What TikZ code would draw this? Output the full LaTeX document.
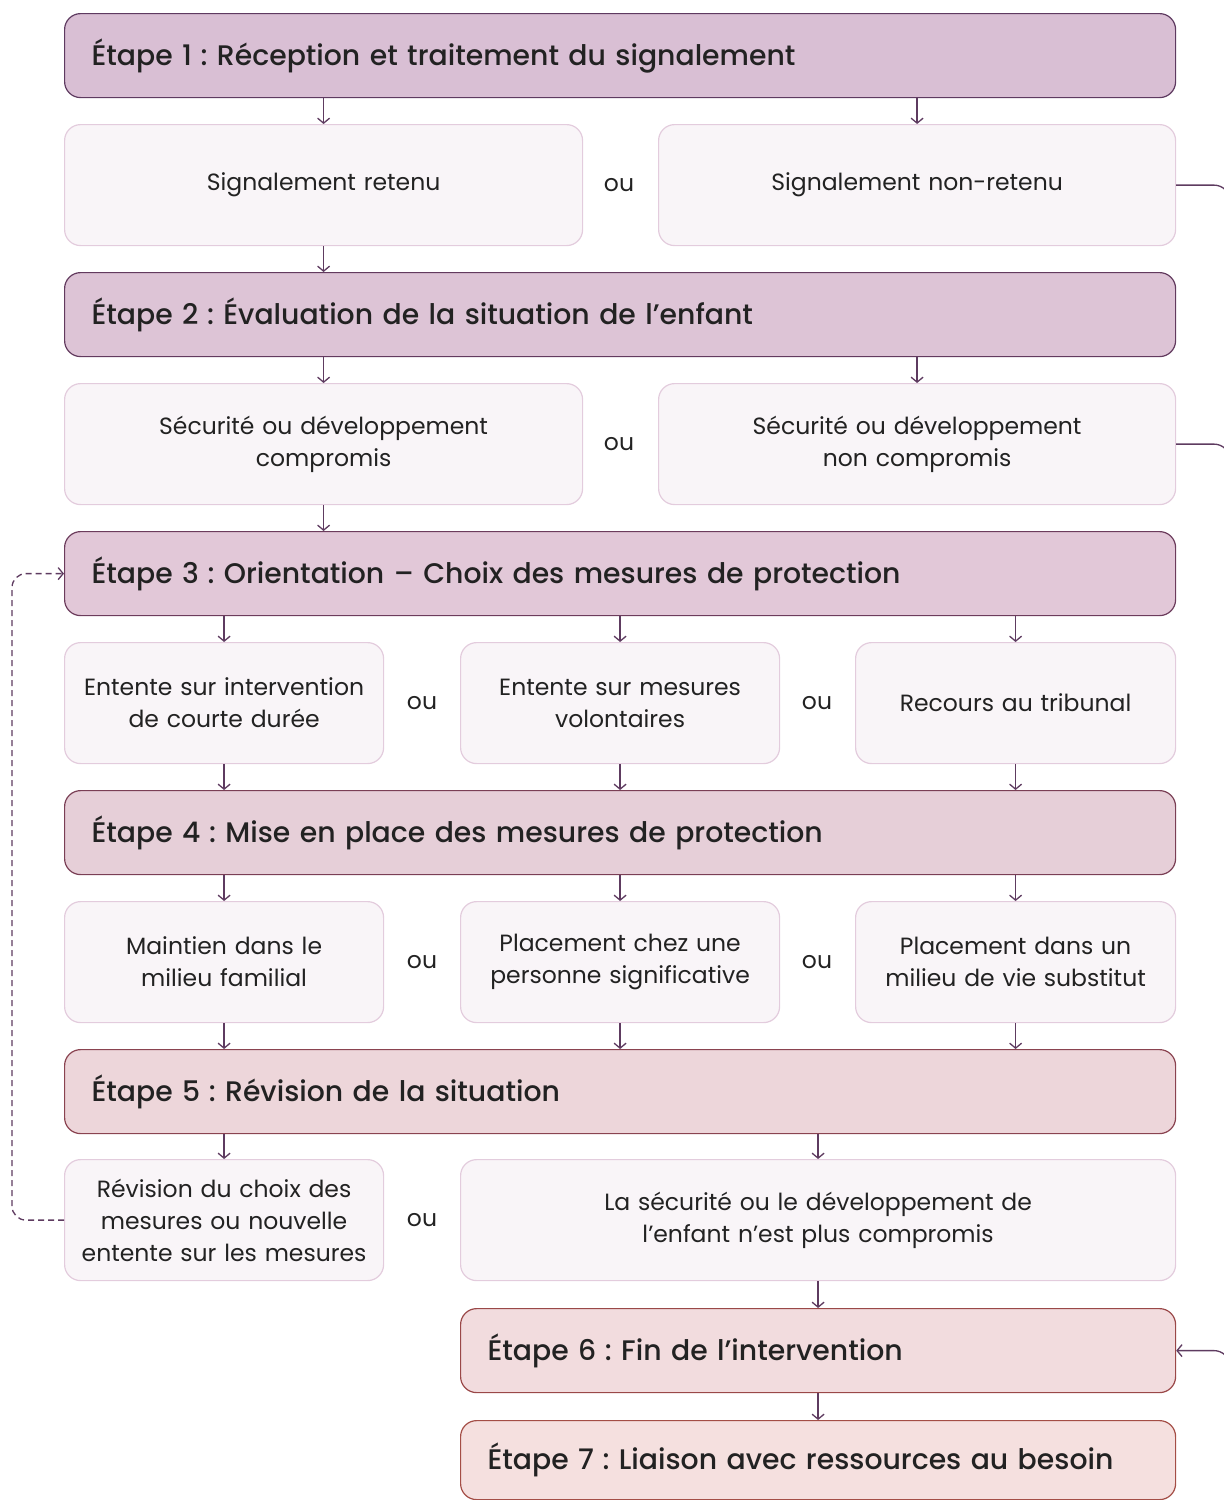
\documentclass[tikz,border=0pt]{standalone}
\usepackage{fontspec}
\setmainfont{Poppins}
\newfontfamily\etapefont{Poppins Medium}
\usetikzlibrary{arrows.meta}

\definecolor{trait}{HTML}{5E3B60}
\definecolor{texte}{HTML}{222222}
\definecolor{choixfond}{HTML}{F9F5F8}
\definecolor{choixbord}{HTML}{E3CCDD}
\definecolor{fondA}{HTML}{D9BFD4}\definecolor{bordA}{HTML}{5E3A60}
\definecolor{fondB}{HTML}{DDC4D6}\definecolor{bordB}{HTML}{623A5E}
\definecolor{fondC}{HTML}{E2C8D8}\definecolor{bordC}{HTML}{6C3C5C}
\definecolor{fondD}{HTML}{E6CFD8}\definecolor{bordD}{HTML}{7A3F55}
\definecolor{fondE}{HTML}{EDD6DA}\definecolor{bordE}{HTML}{8A4350}
\definecolor{fondF}{HTML}{F2DCDE}\definecolor{bordF}{HTML}{9A4848}
\definecolor{fondG}{HTML}{F5E0DF}\definecolor{bordG}{HTML}{A44E46}

\tikzset{>={Straight Barb[length=5pt,width=12pt]}}
\frenchspacing
\newcommand{\deuxpts}{\hspace{0.3em}:}

\begin{document}
\begin{tikzpicture}[x=1pt,y=-1pt,
    etape/.style 2 args={draw=#2, fill=#1, line width=1.2pt, rounded corners=16pt,
      anchor=north west, minimum height=84pt, inner xsep=27pt, align=left,
      text=texte, font=\etapefont\fontsize{28.3}{34}\selectfont},
    choix/.style={draw=choixbord, fill=choixfond, line width=1.2pt, rounded corners=16pt,
      anchor=north west, minimum height=121pt, inner xsep=10pt, align=center,
      text=texte, font=\fontsize{23.5}{32}\selectfont},
    ou/.style={text=texte, font=\fontsize{23.5}{32}\selectfont},
    fleche/.style={->, draw=trait, line width=1.3pt},
    retour/.style={draw=trait, line width=1.3pt, rounded corners=16pt}]

    \clip (0,0) rectangle (1224,1500);

    % etape 1
    \node[etape={fondA}{bordA}, text width=1057pt] (e1) at (64,13) {Étape 1\deuxpts{} Réception et traitement du signalement};
    \node[choix, text width=498pt] (c11) at (64,124) {Signalement retenu};
    \node[choix, text width=497pt] (c12) at (658,124) {Signalement non-retenu};
    \node[ou] (o11) at (619,185) {ou};

    % etape 2
    \node[etape={fondB}{bordB}, text width=1057pt] (e2) at (64,272) {Étape 2\deuxpts{} Évaluation de la situation de l’enfant};
    \node[choix, text width=498pt] (c21) at (64,383) {Sécurité ou développement\\compromis};
    \node[choix, text width=497pt] (c22) at (658,383) {Sécurité ou développement\\non compromis};
    \node[ou] (o21) at (619,444) {ou};

    % etape 3
    \node[etape={fondC}{bordC}, text width=1057pt] (e3) at (64,531) {Étape 3\deuxpts{} Orientation – Choix des mesures de protection};
    \node[choix, text width=299pt] (c31) at (64,642) {Entente sur intervention\\de courte durée};
    \node[choix, text width=299pt] (c32) at (460,642) {Entente sur mesures\\volontaires};
    \node[choix, text width=300pt] (c33) at (855,642) {Recours au tribunal};
    \node[ou] (o31) at (422,703) {ou};
    \node[ou] (o32) at (817,703) {ou};

    % etape 4
    \node[etape={fondD}{bordD}, text width=1057pt] (e4) at (64,790) {Étape 4\deuxpts{} Mise en place des mesures de protection};
    \node[choix, text width=299pt] (c41) at (64,901) {Maintien dans le\\milieu familial};
    \node[choix, text width=299pt] (c42) at (460,901) {Placement chez une\\personne significative};
    \node[choix, text width=300pt] (c43) at (855,901) {Placement dans un\\milieu de vie substitut};
    \node[ou] (o41) at (422,962) {ou};
    \node[ou] (o42) at (817,962) {ou};

    % etape 5
    \node[etape={fondE}{bordE}, text width=1057pt] (e5) at (64,1049) {Étape 5\deuxpts{} Révision de la situation};
    \node[choix, text width=299pt] (c51) at (64,1159) {Révision du choix des\\mesures ou nouvelle\\entente sur les mesures};
    \node[choix, text width=695pt] (c52) at (460,1159) {La sécurité ou le développement de\\l’enfant n’est plus compromis};
    \node[ou] (o51) at (422,1220) {ou};

    % etapes 6 et 7
    \node[etape={fondF}{bordF}, text width=661pt] (e6) at (460,1308) {Étape 6\deuxpts{} Fin de l’intervention};
    \node[etape={fondG}{bordG}, text width=661pt, minimum height=79pt] (e7) at (460,1420) {Étape 7\deuxpts{} Liaison avec ressources au besoin};

    % fleches
    \draw[fleche] (c11.north |- e1.south) -- (c11.north);
    \draw[fleche] (c12.north |- e1.south) -- (c12.north);
    \draw[fleche] (c11.south) -- (c11.south |- e2.north);
    \draw[fleche] (c21.north |- e2.south) -- (c21.north);
    \draw[fleche] (c22.north |- e2.south) -- (c22.north);
    \draw[fleche] (c21.south) -- (c21.south |- e3.north);
    \foreach \n in {1,2,3} {
        \draw[fleche] (c3\n.north |- e3.south) -- (c3\n.north);
        \draw[fleche] (c3\n.south) -- (c3\n.south |- e4.north);
        \draw[fleche] (c4\n.north |- e4.south) -- (c4\n.north);
        \draw[fleche] (c4\n.south) -- (c4\n.south |- e5.north);
    }
    \draw[fleche] (c51.north |- e5.south) -- (c51.north);
    \draw[fleche] (c52.north |- e5.south) -- (c52.north);
    \draw[fleche] (c52.south) -- (e6.north);
    \draw[fleche] (e6.south) -- (e7.north);

    % retours
    \coordinate (bord) at (1230,0);
    \draw[retour] (c12.east) -- (c12.east -| bord) -- (bord |- e6.east);
    \draw[retour] (c22.east) -- (c22.east -| bord) -- (bord |- e6.east);
    \draw[retour, ->] ([yshift=-40pt]bord |- e6.east) -- (bord |- e6.east) -- (e6.east);
    \coordinate (gauche) at (12,0);
    \draw[fleche, rounded corners=14pt, dash pattern=on 6pt off 4pt, line width=1.3pt] (c51.west) -- (c51.west -| gauche) -- (gauche |- e3.west) -- (e3.west);

\end{tikzpicture}
\end{document}
